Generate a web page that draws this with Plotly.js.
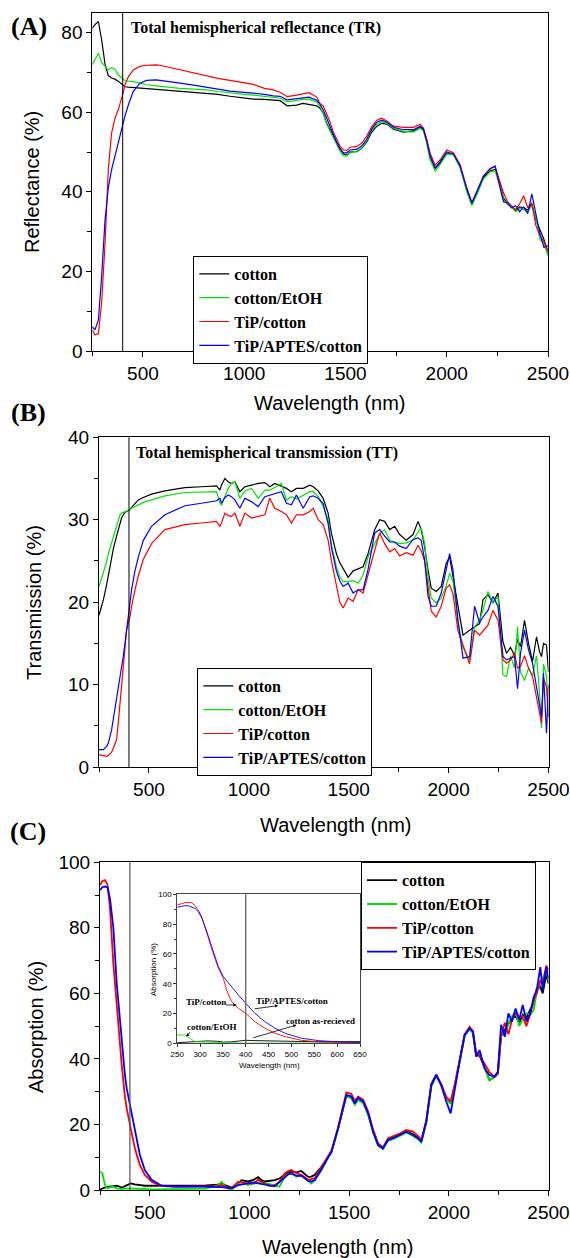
<!DOCTYPE html>
<html><head><meta charset="utf-8">
<script src="https://cdn.plot.ly/plotly-3.0.1.min.js"></script>
<style>html,body{margin:0;padding:0;background:#fff}#g{width:570px;height:1258px}</style>
</head><body><div id="g"></div>
<script>
// ---------- Panel A : Total hemispherical reflectance ----------
const wlA = [250,263,280,296,313,329,345,362,378,395,403,411,428,452,485,518,566,601,683,750,815,870,930,1000,1045,1100,1144,1177,1212,1259,1290,1320,1358,1374,1391,1407,1424,1440,1457,1473,1490,1506,1523,1556,1580,1605,1630,1655,1679,1704,1737,1786,1836,1868,1885,1900,1918,1943,1967,2000,2033,2066,2099,2124,2148,2181,2214,2239,2263,2280,2300,2320,2340,2360,2380,2400,2420,2440,2460,2480,2500];
const cottonA = [81.1,82.0,82.8,78.2,72.0,69.2,68.6,68.3,67.8,67.0,66.6,66.4,66.3,66.2,66.0,65.9,65.7,65.6,65.3,65.0,64.7,64.5,64.0,63.6,63.3,63.2,63.0,62.9,61.6,61.8,62.2,62.0,61.6,61.0,59.7,57.2,55.5,53.9,52.3,50.9,49.5,49.2,50.0,50.1,50.9,52.5,55.0,56.5,57.2,57.0,55.7,55.0,55.3,56.2,55.5,53.0,48.8,45.9,47.2,49.6,49.5,46.3,40.5,37.0,39.5,43.5,45.3,45.6,42.0,38.5,37.0,36.0,35.2,36.2,36.0,35.4,37.0,33.0,30.4,28.0,24.8];
const etohA = [71.9,73.1,74.8,72.5,71.5,70.6,71.2,70.8,69.4,68.5,68.1,67.9,67.8,67.7,67.3,66.9,66.6,66.4,66.0,65.8,65.6,65.2,64.8,64.5,64.3,64.0,63.8,63.5,62.6,63.0,63.2,63.3,62.6,61.5,59.5,57.0,55.3,53.5,51.8,50.2,49.0,49.0,49.8,50.2,51.0,52.8,55.5,57.0,57.6,57.2,56.0,55.2,55.0,56.0,55.3,52.5,48.0,45.2,46.8,49.5,49.3,46.0,40.0,36.5,39.2,43.2,45.0,45.3,41.5,38.0,36.8,36.2,35.0,35.8,35.5,35.0,36.5,33.5,28.0,27.0,24.0];
const tipA = [5.3,4.0,4.4,12.0,27.1,45.5,54.7,58.5,60.6,63.5,65.0,66.9,68.9,70.6,71.5,71.8,71.9,71.6,70.6,69.8,69.0,68.5,68.0,67.4,67.0,66.0,65.6,65.0,63.9,64.3,64.6,64.9,63.8,62.2,61.5,59.5,57.5,55.0,53.0,51.5,50.5,50.4,51.2,51.4,52.2,54.0,56.4,58.0,58.5,57.8,56.5,56.2,56.2,57.0,56.0,53.5,49.7,46.7,48.0,50.5,49.8,46.8,41.0,37.3,40.0,44.0,45.8,46.3,42.5,39.8,37.5,36.5,35.5,37.0,39.0,36.0,37.2,31.5,29.0,27.5,25.0];
const aptesA = [6.1,5.3,7.8,18.7,33.0,41.0,45.5,49.0,52.0,55.5,57.5,59.0,61.8,65.2,67.3,68.0,68.1,67.9,67.3,66.8,66.3,65.8,65.3,65.0,64.8,64.5,64.1,64.0,63.1,63.4,63.6,63.8,63.0,62.0,60.5,58.5,56.5,54.3,52.3,50.8,49.8,49.8,50.5,50.7,51.5,53.2,55.8,57.5,58.0,57.5,56.2,55.6,55.6,56.5,55.8,53.0,49.0,46.0,47.5,50.0,49.5,46.5,40.8,37.2,39.8,43.8,45.8,46.5,41.0,37.5,37.2,36.0,36.5,35.0,36.2,34.5,39.5,34.0,29.5,26.0,26.5];

// ---------- Panel B : Total hemispherical transmission ----------
const wlB = [250,272,288,297,313,322,338,347,355,363,372,380,388,405,413,430,447,472,513,580,680,763,838,855,863,880,897,913,930,955,980,1013,1047,1080,1105,1130,1163,1188,1213,1238,1272,1305,1322,1347,1372,1397,1413,1438,1455,1472,1497,1522,1547,1572,1597,1630,1655,1680,1705,1730,1755,1788,1822,1847,1863,1880,1897,1913,1938,1963,1988,2005,2022,2047,2072,2105,2130,2155,2172,2197,2222,2247,2272,2290,2310,2330,2345,2360,2380,2400,2420,2440,2455,2465,2475,2490,2500];
const cottonB = [18.4,20.3,22.1,23.2,25.5,26.5,28.0,28.8,29.6,30.2,30.6,30.9,31.0,31.2,31.5,32.0,32.4,32.7,33.1,33.5,33.9,34.0,34.1,33.6,34.2,35.0,34.6,34.4,34.6,33.4,34.0,34.2,34.4,34.5,34.0,34.4,34.1,33.8,33.4,33.8,33.8,34.2,34.0,33.5,32.6,30.8,28.4,25.9,24.8,24.1,23.0,23.8,24.1,24.3,25.9,28.8,30.0,29.8,28.8,29.2,28.2,27.5,28.2,29.8,28.8,26.7,23.9,21.7,21.3,21.9,24.7,25.5,23.1,19.5,16.0,16.6,17.0,17.4,20.3,20.9,19.9,21.1,15.2,13.8,14.5,13.5,15.5,14.6,17.8,15.0,12.8,15.8,14.0,13.4,15.0,14.8,11.5];
const etohB = [21.9,23.5,24.9,25.9,27.2,28.0,29.4,30.2,30.6,30.8,30.9,30.9,31.0,31.2,31.4,31.6,31.8,32.1,32.4,32.9,33.3,33.4,33.4,32.0,31.8,32.8,33.8,34.4,34.6,32.6,33.5,33.8,32.6,33.6,33.6,33.9,34.4,32.4,32.8,32.5,33.0,33.4,33.4,32.8,31.6,30.0,27.0,24.3,23.1,22.5,22.5,22.6,22.3,23.3,25.5,27.2,28.3,28.8,27.5,27.3,27.1,27.2,27.5,28.5,29.0,27.1,23.0,20.5,19.9,20.5,22.0,23.5,22.5,17.5,14.5,13.0,17.0,17.8,19.0,21.3,19.9,20.7,11.2,11.0,13.5,12.0,17.0,11.5,10.5,12.0,11.0,13.5,9.0,4.7,12.5,11.0,6.0];
const tipB = [1.5,1.4,1.3,1.4,1.8,2.3,3.3,5.5,7.7,10.0,12.6,14.6,16.6,18.2,19.5,21.5,23.2,25.2,27.1,28.8,29.4,29.6,29.8,29.2,29.6,30.8,30.5,30.4,30.8,29.2,30.8,30.2,30.4,30.6,32.6,31.4,31.0,30.6,29.6,30.6,30.6,31.0,31.4,30.0,29.4,27.5,25.1,21.9,20.0,19.3,20.5,20.1,21.5,21.1,23.5,26.3,28.4,27.1,26.1,26.5,25.6,26.0,25.7,26.9,26.2,25.0,21.9,18.9,18.2,19.5,21.7,22.1,21.0,16.5,14.8,12.5,16.6,16.0,16.5,17.2,19.0,17.8,13.0,12.6,13.0,13.8,12.0,12.2,13.5,12.0,11.0,8.5,6.5,5.3,10.8,9.7,6.0];
const aptesB = [2.1,2.1,2.5,2.9,4.5,5.8,8.5,9.8,10.8,11.8,13.5,15.0,16.6,19.8,21.5,23.8,25.5,27.5,29.2,30.6,31.7,32.0,32.3,32.6,32.0,32.7,33.0,32.8,32.4,31.4,32.6,32.2,31.6,32.8,33.0,33.2,33.4,32.0,31.8,33.0,31.4,32.8,32.9,32.6,32.0,29.5,26.7,23.8,22.6,21.9,22.3,21.1,21.5,21.5,24.0,28.4,28.8,28.0,27.3,27.3,26.8,26.5,27.6,27.8,27.5,25.1,20.7,19.5,19.5,21.1,23.9,25.9,23.9,17.8,13.2,13.4,19.5,17.5,18.2,19.0,20.7,19.5,13.4,13.0,13.2,13.4,9.5,13.8,16.6,14.2,12.6,9.7,7.3,6.1,11.4,4.1,10.0];

// ---------- Panel C : Absorption ----------
const wlC = [250,262,275,288,300,317,334,350,359,375,384,404,425,450,475,509,559,626,700,780,843,860,880,910,943,960,993,1020,1043,1060,1077,1100,1127,1150,1177,1194,1210,1235,1260,1294,1310,1327,1361,1386,1411,1444,1469,1486,1511,1528,1545,1570,1595,1620,1645,1670,1695,1720,1754,1787,1820,1845,1862,1887,1912,1937,1962,1987,2009,2029,2054,2079,2104,2121,2137,2154,2179,2204,2229,2246,2262,2281,2299,2317,2335,2353,2371,2389,2408,2426,2441,2459,2471,2489,2500];
const cottonC = [0.2,0.5,0.7,1.0,1.0,1.2,1.3,1.0,0.7,1.2,1.5,2.0,1.7,1.5,1.3,1.3,1.3,1.3,1.4,1.4,1.6,2.2,1.4,0.7,1.8,3.0,2.6,3.1,3.9,3.0,2.6,2.7,3.0,3.5,4.8,5.4,5.6,5.4,5.8,4.0,4.1,4.6,7.1,9.5,11.5,18.5,25.0,29.0,28.3,26.5,28.0,27.0,23.5,18.0,14.0,13.0,15.3,16.0,17.0,18.0,17.0,16.0,15.0,21.0,32.0,35.0,32.0,28.0,26.5,31.5,39.2,47.0,49.3,48.0,41.0,41.0,37.5,33.5,34.5,35.5,47.0,49.0,51.0,52.5,53.0,51.0,53.5,52.5,55.0,57.0,61.5,62.0,60.0,66.0,63.0];
const etohC = [5.6,5.1,1.5,0.5,0.8,1.0,0.5,0.3,0.3,0.5,0.5,0.5,0.5,0.4,0.3,0.2,0.2,0.3,0.3,0.4,1.5,2.5,0.8,0.0,2.0,2.5,1.5,2.0,2.3,2.5,2.2,1.8,1.3,1.0,4.1,4.8,5.1,4.1,4.5,2.8,2.0,3.0,6.0,9.0,11.7,18.3,25.0,28.5,28.0,26.0,27.5,26.5,23.0,17.5,13.5,12.5,15.0,15.5,16.5,17.5,16.5,15.5,14.5,20.5,31.5,34.8,31.8,27.8,26.3,31.5,39.0,47.0,49.0,48.0,41.5,42.0,37.5,33.5,34.5,36.0,48.0,47.0,51.0,53.0,54.5,50.0,52.0,54.0,53.5,55.0,60.5,63.0,64.5,67.0,64.0];
const tipC = [93.1,94.3,94.6,93.1,86.0,69.0,56.5,44.0,38.1,28.5,24.9,18.8,12.7,7.6,4.6,2.5,1.2,1.0,1.0,1.1,1.2,1.5,0.9,0.6,2.5,2.3,2.0,2.0,3.1,2.5,2.0,1.2,1.5,2.5,5.1,5.8,6.1,5.1,4.6,3.1,3.3,3.6,7.0,9.5,12.0,19.0,25.8,29.8,29.3,27.3,28.5,27.6,24.0,18.5,14.2,13.0,15.8,16.3,17.2,18.3,17.8,16.5,15.3,21.3,32.5,35.3,32.3,28.5,27.0,32.0,39.5,47.5,49.8,48.5,42.0,41.0,38.5,36.0,34.5,35.5,47.0,51.0,47.5,52.0,54.0,52.5,53.0,50.0,53.5,58.0,60.0,64.0,63.0,68.5,67.0];
const aptesC = [91.5,92.4,92.6,92.3,89.0,80.0,63.0,51.4,46.0,35.1,31.0,24.9,17.8,10.7,6.1,3.1,1.3,1.0,1.1,1.1,1.0,0.9,0.7,0.5,1.5,1.6,2.0,2.3,2.0,1.8,1.6,1.3,1.1,2.4,4.0,4.8,5.1,4.3,4.4,2.8,2.6,3.0,6.3,8.8,11.7,18.8,25.4,29.0,28.5,26.4,28.2,27.0,23.4,17.8,13.7,12.7,15.3,15.8,16.8,17.8,16.8,15.8,14.7,20.9,32.0,35.1,32.0,27.0,23.4,31.0,39.2,47.3,49.3,48.3,40.7,42.7,37.1,35.1,34.6,36.1,50.4,46.8,53.9,51.4,55.4,52.0,56.5,51.4,53.9,59.0,61.0,68.0,61.0,68.1,64.5];

// ---------- Inset (UV-vis detail of panel C) ----------
const wlIn = [250,260,267,275,281,289,296,304,311,318,325,333,340,351,358,369,384,400,420,442,464,486,522,559,595,650];
const cottonIn = [0.4,0.5,0.6,0.8,0.9,1.1,1.2,1.4,1.5,1.6,1.6,1.5,1.3,0.8,0.7,1.0,1.5,2.0,1.8,1.6,1.4,1.3,1.2,1.1,1.1,1.1];
const etohIn = [5.6,5.6,5.6,4.0,2.5,1.1,1.0,0.9,0.8,0.8,0.7,0.7,0.7,0.6,0.5,0.4,0.2,0.0,0.1,0.1,0.2,0.2,0.2,0.2,0.2,0.2];
const tipIn = [92.8,93.8,94.4,94.5,94.4,92.5,89.5,84.5,78.3,71.0,63.8,57.0,50.3,43.6,35.8,28.0,23.5,20.1,14.5,10.1,6.7,4.5,2.0,0.9,0.6,0.5];
const aptesIn = [91.3,92.0,92.4,92.3,91.7,90.5,88.4,84.0,78.3,71.5,64.9,58.0,51.5,44.7,42.0,38.0,32.4,26.8,20.1,14.5,10.1,6.7,3.4,1.8,1.1,0.7];

const names = ['cotton','cotton/EtOH','TiP/cotton','TiP/APTES/cotton'];
const colors = ['#000000','#00e400','#ff0000','#0000ff'];

const W = 570, H = 1258;
const px = v => v / W;
const py = v => 1 - v / H;

const traces = [];
const sets = [
  {x: wlA, ys: [cottonA, etohA, tipA, aptesA], xa: 'x', ya: 'y', leg: 'legend', w: 1.2},
  {x: wlB, ys: [cottonB, etohB, tipB, aptesB], xa: 'x2', ya: 'y2', leg: 'legend2', w: 1.2},
  {x: wlC, ys: [cottonC, etohC, tipC, aptesC], xa: 'x3', ya: 'y3', leg: 'legend3', w: 1.8},
  {x: wlIn, ys: [cottonIn, etohIn, tipIn, aptesIn], xa: 'x4', ya: 'y4', leg: null, w: 0.9}
];
sets.forEach(s => {
  s.ys.forEach((y, i) => {
    const t = {x: s.x, y: y, type: 'scatter', mode: 'lines', name: names[i],
      xaxis: s.xa, yaxis: s.ya, line: {color: colors[i], width: s.w}, hoverinfo: 'skip'};
    if (s.leg) { t.legend = s.leg; t.showlegend = true; } else { t.showlegend = false; }
    traces.push(t);
  });
});

const tickFont = {family: 'Liberation Sans, Arial, sans-serif', size: 19, color: '#000'};
function xAx(domain, anchor) {
  return {domain: domain, anchor: anchor, range: [250, 2500], tickmode: 'linear', tick0: 0, dtick: 500,
    ticks: 'outside', ticklen: 5, tickwidth: 1, tickcolor: '#000', showline: true, mirror: true,
    linecolor: '#000', linewidth: 1, showgrid: false, zeroline: false, tickfont: tickFont,
    ticklabeloverflow: 'allow',
    minor: {dtick: 250, tick0: 0, ticks: 'outside', ticklen: 4, tickcolor: '#000', showgrid: false}};
}
function yAx(domain, anchor, range, dtick, minor) {
  return {domain: domain, anchor: anchor, range: range, tickmode: 'linear', tick0: 0, dtick: dtick,
    ticks: 'outside', ticklen: 5, tickwidth: 1, tickcolor: '#000', showline: true, mirror: true,
    linecolor: '#000', linewidth: 1, showgrid: false, zeroline: false, tickfont: tickFont,
    minor: {dtick: minor, tick0: 0, ticks: 'outside', ticklen: 4, tickcolor: '#000', showgrid: false}};
}

const legFont = {family: 'Liberation Serif, Times New Roman, serif', size: 16, color: '#000', weight: 700};
const legBase = {bgcolor: '#fff', bordercolor: '#000', borderwidth: 1, font: legFont,
  xanchor: 'left', yanchor: 'top', tracegroupgap: 0, itemwidth: 30, traceorder: 'normal',
  entrywidth: 148, entrywidthmode: 'pixels'};

const serifB = (s) => ({family: 'Liberation Serif, Times New Roman, serif', size: s, color: '#000', weight: 700});
const sans = (s) => ({family: 'Liberation Sans, Arial, sans-serif', size: s, color: '#000'});

const ann = [];
function paperText(text, x, y, font, opts) {
  ann.push(Object.assign({text: text, x: px(x), y: py(y), xref: 'paper', yref: 'paper',
    showarrow: false, font: font, xanchor: 'center', yanchor: 'middle'}, opts || {}));
}
paperText('(A)', 29, 27, serifB(26));
paperText('(B)', 28, 412, serifB(26));
paperText('(C)', 28, 831, serifB(26));
paperText('Total hemispherical reflectance (TR)', 129, 27.5, serifB(16), {xanchor: 'left'});
paperText('Total hemispherical transmission (TT)', 134, 453.5, serifB(16), {xanchor: 'left'});
paperText('Wavelength (nm)', 330, 403, sans(20));
paperText('Wavelength (nm)', 336, 825, sans(20));
paperText('Wavelength (nm)', 338, 1247, sans(20));
paperText('Reflectance (%)', 32, 182, sans(20), {textangle: -90});
paperText('Transmission (%)', 34, 603, sans(20), {textangle: -90});
paperText('Absorption (%)', 36, 1027, sans(20), {textangle: -90});
paperText('Wavelength (nm)', 269, 1065, sans(8));
paperText('Absorption (%)', 153, 970, sans(8), {textangle: -90});

// inset labels
function insetText(text, x, y) {
  ann.push({text: text, x: x, y: y, xref: 'x4', yref: 'y4', showarrow: false,
    font: serifB(9), xanchor: 'center', yanchor: 'middle'});
}
insetText('TiP/cotton', 312, 28);
insetText('TiP/APTES/cotton', 502, 28.6);
insetText('cotton as-recieved', 564, 15.2);
insetText('cotton/EtOH', 327, 11.2);
function insetArrow(hx, hy, tx, ty) {
  ann.push({text: '', x: hx, y: hy, ax: tx, ay: ty, xref: 'x4', yref: 'y4', axref: 'x4', ayref: 'y4',
    showarrow: true, arrowhead: 2, arrowsize: 0.8, arrowwidth: 0.8, arrowcolor: '#000'});
}
insetArrow(380, 25.7, 354, 25.7);
insetArrow(471, 25.3, 416, 23.0);
insetArrow(511, 12.3, 413, 3.4);
insetArrow(270, 4.5, 281, 8.5);

const vline = (xref, color, w) => ({type: 'line', xref: xref, yref: xref.replace('x', 'y') + ' domain',
  x0: 400, x1: 400, y0: 0, y1: 1, line: {color: color, width: w}});

const layout = {
  width: W, height: H, margin: {l: 0, r: 0, t: 0, b: 0},
  paper_bgcolor: '#fff', plot_bgcolor: '#fff', showlegend: true,
  xaxis: xAx([px(92.3), px(548)], 'y'),
  yaxis: yAx([py(351), py(12.7)], 'x', [0, 85], 20, 10),
  xaxis2: xAx([px(99), px(548.5)], 'y2'),
  yaxis2: yAx([py(767), py(437.3)], 'x2', [0, 40], 10, 5),
  xaxis3: xAx([px(100), px(548.5)], 'y3'),
  yaxis3: yAx([py(1190), py(862.3)], 'x3', [0, 100], 20, 10),
  xaxis4: {domain: [px(177.2), px(360)], anchor: 'y4', range: [250, 650], tickmode: 'linear', tick0: 250, dtick: 50,
    ticks: 'outside', ticklen: 3, tickcolor: '#333', showline: true, mirror: true, linecolor: '#444', linewidth: 1,
    showgrid: false, zeroline: false, tickfont: sans(8)},
  yaxis4: {domain: [py(1043.3), py(894.3)], anchor: 'x4', range: [0, 100], tickmode: 'linear', tick0: 0, dtick: 20,
    ticks: 'outside', ticklen: 3, tickcolor: '#333', showline: true, mirror: true, linecolor: '#444', linewidth: 1,
    showgrid: false, zeroline: false, tickfont: sans(8),
    minor: {dtick: 10, ticks: 'outside', ticklen: 2, tickcolor: '#333', showgrid: false}},
  legend: Object.assign({}, legBase, {x: px(193.3), y: py(256)}),
  legend2: Object.assign({}, legBase, {x: px(197.3), y: py(668)}),
  legend3: Object.assign({}, legBase, {x: px(361), y: py(862.3)}),
  annotations: ann,
  shapes: [vline('x', '#000', 1), vline('x2', '#000', 1), vline('x3', '#555', 1.2), vline('x4', '#555', 1.2)]
};

Plotly.newPlot('g', traces, layout, {staticPlot: true, displayModeBar: false});
</script>
</body></html>
